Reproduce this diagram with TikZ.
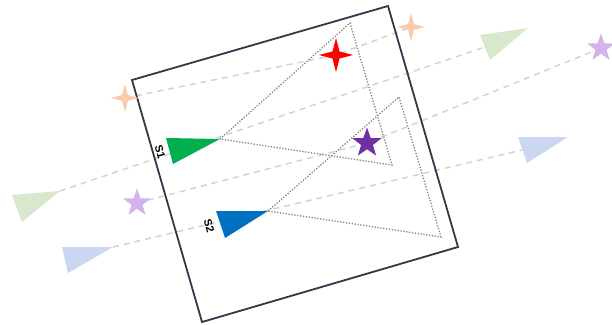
\documentclass[tikz,border=0pt]{standalone}
\usepackage{fontspec}
\setmainfont{Liberation Sans}
\usetikzlibrary{shapes.geometric}
\definecolor{framec}{HTML}{2E3A48}
\definecolor{dashc}{HTML}{D3D3D3}
\definecolor{dotc}{HTML}{858585}
\definecolor{peach}{HTML}{F8CBAD}
\definecolor{lpurple}{HTML}{D4B2EE}
\definecolor{lgreen}{HTML}{D8E8CC}
\definecolor{lblue}{HTML}{CBD6F0}
\definecolor{sred}{HTML}{FF0000}
\definecolor{spurple}{HTML}{7030A0}
\definecolor{sgreen}{HTML}{00B050}
\definecolor{sblue}{HTML}{0070C0}
\tikzset{
  ray/.style={draw=dashc, line width=1.5pt, dash pattern=on 6pt off 5pt},
  cone/.style={draw=dotc, line width=1.3pt, dash pattern=on 1.3pt off 1.6pt},
  fourstar/.style={star, star points=4, star point ratio=3.4, inner sep=0pt, draw=none},
  fivestar/.style={star, star points=5, star point ratio=2.5, inner sep=0pt, minimum size=31pt, draw=none},
  srclabel/.style={rotate=-74, font=\bfseries\fontsize{11}{11}\selectfont, inner sep=0pt}
}
\begin{document}
\begin{tikzpicture}[x=1pt,y=-1pt]
\useasboundingbox (0,0) rectangle (612,324);
% frame corners
\coordinate (fa) at (132,80);
\coordinate (fb) at (388,6);
\coordinate (fc) at (458,247);
\coordinate (fd) at (202,322);
% triangles
\coordinate (g1a) at (166,138); \coordinate (g1t) at (220,139); \coordinate (g1b) at (173,164);
\coordinate (b1a) at (216,211); \coordinate (b1t) at (268,211); \coordinate (b1b) at (225,238);
\coordinate (lgLa) at (12,195); \coordinate (lgLt) at (60,191); \coordinate (lgLb) at (22,222);
\coordinate (lgRa) at (480,35); \coordinate (lgRt) at (528,28); \coordinate (lgRb) at (490,60);
\coordinate (lgRm) at (485,47);
\coordinate (lbLa) at (62,247); \coordinate (lbLt) at (113,247); \coordinate (lbLb) at (68,273);
\coordinate (lbRa) at (518,137); \coordinate (lbRt) at (568,137); \coordinate (lbRb) at (527,163);
\coordinate (lbRm) at (522,150);
% cone corners
\coordinate (c1a) at (350,23); \coordinate (c1b) at (392,165);
\coordinate (c2a) at (399,97); \coordinate (c2b) at (441,237);
% star positions
\coordinate (pkL) at (125,98);
\coordinate (pkR) at (411,27);
\coordinate (rd) at (336,55);
\coordinate (ppL) at (137,203);
\coordinate (ppR) at (601,48);
\coordinate (pp) at (367,143);

% dashed rays
\draw[ray] (pkL) -- (rd) -- (pkR);
\draw[ray] (lgLt) -- (lgRm);
\draw[ray] (ppL) -- (pp) -- (ppR);
\draw[ray] (lbLt) -- (lbRm);

% dotted cones
\draw[cone] (g1t) -- (c1a) -- (c1b) -- cycle;
\draw[cone] (b1t) -- (c2a) -- (c2b) -- cycle;

% frame
\draw[framec, line width=1.8pt, line join=miter] (fa) -- (fb) -- (fc) -- (fd) -- cycle;

% faded images
\fill[lgreen] (lgLa) -- (lgLt) -- (lgLb) -- cycle;
\fill[lgreen] (lgRa) -- (lgRt) -- (lgRb) -- cycle;
\fill[lblue] (lbLa) -- (lbLt) -- (lbLb) -- cycle;
\fill[lblue] (lbRa) -- (lbRt) -- (lbRb) -- cycle;
\node[fourstar, fill=peach, minimum size=28pt] (peachL) at (pkL) {};
\node[fourstar, fill=peach, minimum size=28pt] (peachR) at (pkR) {};
\node[fivestar, fill=lpurple, minimum size=29pt] (lpurL) at (ppL) {};
\node[fivestar, fill=lpurple, minimum size=29pt] (lpurR) at (ppR) {};

% real sources
\fill[sgreen] (g1a) -- (g1t) -- (g1b) -- cycle;
\fill[sblue] (b1a) -- (b1t) -- (b1b) -- cycle;
\node[fourstar, fill=sred, minimum size=34pt] (redstar) at (rd) {};
\node[fivestar, fill=spurple] (purstar) at (pp) {};

% labels
\node[srclabel] (s1) at (160,152) {S1};
\node[srclabel] (s2) at (209,226) {S2};
\end{tikzpicture}
\end{document}
